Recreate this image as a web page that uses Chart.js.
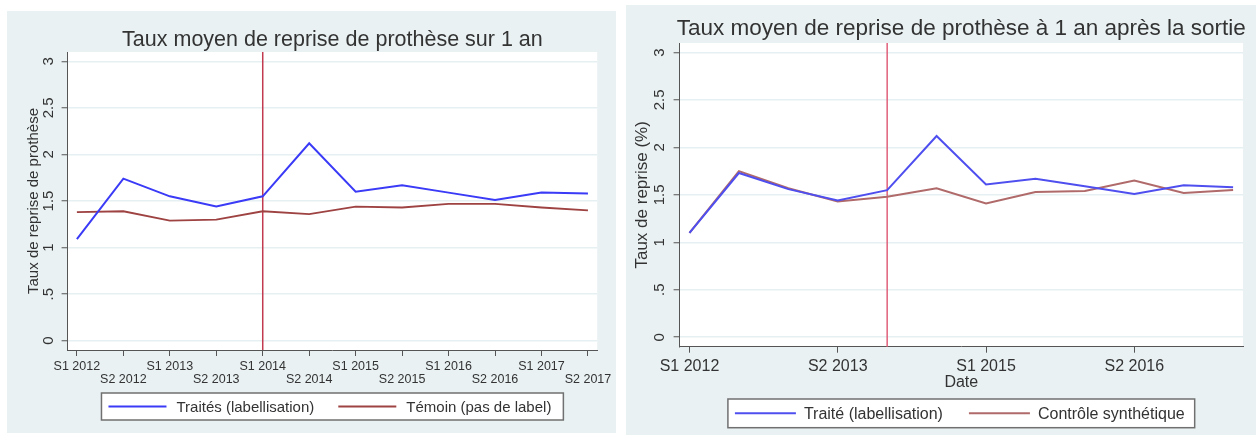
<!DOCTYPE html>
<html>
<head>
<meta charset="utf-8">
<script src="https://cdn.jsdelivr.net/npm/chart.js@4.4.1/dist/chart.umd.min.js"></script>
<style>
    body { margin: 0; width: 1256px; height: 435px; background: #fff; position: relative; overflow: hidden; }
    .panel { position: absolute; background: #e9f1f3; }
    #panel-left { left: 7px; top: 11px; width: 609px; height: 422px; }
    #panel-right { left: 626px; top: 5px; width: 630px; height: 430px; }
    canvas { display: block; }
</style>
</head>
<body>
<div class="panel" id="panel-left"><canvas id="chartLeft" width="609" height="422"></canvas></div>
<div class="panel" id="panel-right"><canvas id="chartRight" width="630" height="430"></canvas></div>
<script>
const FONT = '"Liberation Sans", Arial, sans-serif';

// semesters on the x axis
const periods = ['S1 2012', 'S2 2012', 'S1 2013', 'S2 2013', 'S1 2014', 'S2 2014',
                 'S1 2015', 'S2 2015', 'S1 2016', 'S2 2016', 'S1 2017', 'S2 2017'];
const rightTickLabels = ['S1 2012', 'S2 2013', 'S1 2015', 'S2 2016'];
const yTicks = [0, 0.5, 1, 1.5, 2, 2.5, 3];
const eventPeriod = 'S1 2014';

// left chart: taux sur 1 an
const leftTraites = [1.09, 1.74, 1.55, 1.44, 1.55, 2.12, 1.60, 1.67, 1.59, 1.51, 1.59, 1.58];
const leftTemoin  = [1.38, 1.39, 1.29, 1.30, 1.39, 1.36, 1.44, 1.43, 1.47, 1.47, 1.43, 1.40];

// right chart: taux à 1 an après la sortie
const rightTraite   = [1.10, 1.73, 1.56, 1.44, 1.55, 2.12, 1.61, 1.67, 1.59, 1.51, 1.60, 1.58];
const rightControle = [1.10, 1.75, 1.57, 1.43, 1.48, 1.57, 1.41, 1.53, 1.54, 1.65, 1.52, 1.55];

const xy = vals => vals.map((v, i) => ({ x: i, y: v }));
const fmtY = v => (v > 0 && v < 1) ? String(v).replace(/^0/, '') : String(v);

// titres, labels Y tournés, ligne verticale et légende façon Stata
const stataPlugin = {
    id: 'stata',
    beforeDraw(chart, args, o) {
        const { ctx, chartArea: a } = chart;
        ctx.save();
        ctx.fillStyle = '#ffffff';
        ctx.fillRect(a.left, a.top, a.right - a.left, a.bottom - a.top);
        ctx.restore();
    },
    beforeDatasetsDraw(chart, args, o) {
        const { ctx, chartArea: a, scales } = chart;
        const x = scales.x.getPixelForValue(periods.indexOf(eventPeriod));
        ctx.save();
        ctx.strokeStyle = o.eventColor;
        ctx.lineWidth = 1.5;
        ctx.beginPath();
        ctx.moveTo(x, a.top);
        ctx.lineTo(x, a.bottom);
        ctx.stroke();
        ctx.restore();
    },
    afterDraw(chart, args, o) {
        const { ctx, chartArea: a, scales } = chart;
        const cx = (a.left + a.right) / 2;
        const cy = (a.top + a.bottom) / 2;
        ctx.save();
        ctx.fillStyle = '#333';

        ctx.font = o.titleFont;
        ctx.textAlign = 'center';
        ctx.textBaseline = 'alphabetic';
        ctx.fillText(o.title, cx, o.titleY);

        // y tick labels (vertical)
        ctx.font = o.yTickFont;
        ctx.textBaseline = 'middle';
        scales.y.ticks.forEach(t => {
            ctx.save();
            ctx.translate(o.yTickX, scales.y.getPixelForValue(t.value));
            ctx.rotate(-Math.PI / 2);
            ctx.fillText(fmtY(t.value), 0, 0);
            ctx.restore();
        });

        ctx.font = o.yTitleFont;
        ctx.save();
        ctx.translate(o.yTitleX, cy);
        ctx.rotate(-Math.PI / 2);
        ctx.fillText(o.yTitle, 0, 0);
        ctx.restore();

        if (o.xTitle) {
            ctx.font = o.xTitleFont;
            ctx.textBaseline = 'alphabetic';
            ctx.fillText(o.xTitle, cx, o.xTitleY);
        }

        // legend box
        const lg = o.legend;
        ctx.font = lg.font;
        const items = chart.data.datasets.map(d => ({
            text: d.label, color: d.borderColor, width: d.borderWidth, tw: ctx.measureText(d.label).width
        }));
        let total = lg.padL + lg.padR;
        items.forEach((it, i) => { total += lg.lineLen + lg.gap + it.tw + (i ? lg.itemGap : 0); });
        const bx = cx - total / 2;
        const my = lg.top + lg.height / 2;
        ctx.fillStyle = '#fff';
        ctx.fillRect(bx, lg.top, total, lg.height);
        ctx.strokeStyle = '#707070';
        ctx.lineWidth = 1.5;
        ctx.strokeRect(bx, lg.top, total, lg.height);
        let x = bx + lg.padL;
        ctx.textAlign = 'left';
        ctx.textBaseline = 'middle';
        items.forEach((it, i) => {
            if (i) x += lg.itemGap;
            ctx.strokeStyle = it.color;
            ctx.lineWidth = it.width;
            ctx.beginPath();
            ctx.moveTo(x, my);
            ctx.lineTo(x + lg.lineLen, my);
            ctx.stroke();
            x += lg.lineLen + lg.gap;
            ctx.fillStyle = '#333';
            ctx.fillText(it.text, x, my + 1);
            x += it.tw;
        });
        ctx.restore();
    }
};

function buildOptions(p) {
    return {
        responsive: false,
        animation: false,
        events: [],
        layout: { padding: { top: p.padTop, right: p.padRight, left: 0, bottom: 0 } },
        elements: { point: { radius: 0 }, line: { tension: 0 } },
        plugins: {
            legend: { display: false },
            title: { display: false },
            tooltip: { enabled: false },
            stata: p.stata
        },
        scales: {
            x: {
                type: 'linear',
                min: -0.2,
                max: 11.2,
                afterBuildTicks: s => { s.ticks = p.xTickIdx.map(i => ({ value: i })); },
                afterFit: s => { s.height = p.xHeight; },
                grid: { drawOnChartArea: false, drawTicks: true, tickLength: 6, tickColor: '#555', tickWidth: 1 },
                border: { color: '#555', width: 1 },
                ticks: {
                    autoSkip: false, maxRotation: 0, minRotation: 0,
                    padding: p.xTickPad, color: '#333', font: p.xTickFont,
                    callback: p.xTickLabel
                }
            },
            y: {
                min: -0.1,
                max: 3.1,
                afterBuildTicks: s => { s.ticks = yTicks.map(v => ({ value: v })); },
                afterFit: s => { s.width = p.yWidth; },
                grid: { color: '#e6eff1', lineWidth: 1.5, tickLength: 6, tickColor: '#555', tickWidth: 1 },
                border: { color: '#555', width: 1 },
                ticks: { display: false }
            }
        }
    };
}

new Chart(document.getElementById('chartLeft'), {
    type: 'line',
    data: {
        datasets: [
            { label: 'Traités (labellisation)', data: xy(leftTraites), borderColor: '#3a3af7', borderWidth: 2 },
            { label: 'Témoin (pas de label)', data: xy(leftTemoin), borderColor: '#9e4242', borderWidth: 1.8 }
        ]
    },
    options: buildOptions({
        padTop: 41, padRight: 15, xHeight: 83, yWidth: 60.6, xTickPad: 4.5,
        xTickIdx: periods.map((_, i) => i),
        xTickFont: { family: FONT, size: 12.5, lineHeight: 1 },
        xTickLabel: v => (v % 2 === 0 ? [periods[v], ''] : ['', periods[v]]),
        stata: {
            title: 'Taux moyen de reprise de prothèse sur 1 an', titleFont: '21.5px ' + FONT, titleY: 34.7,
            yTitle: 'Taux de reprise de prothèse', yTitleFont: '15px ' + FONT, yTitleX: 26.5,
            yTickFont: '15px ' + FONT, yTickX: 42,
            eventColor: '#c23a50',
            legend: { top: 382, height: 27, font: '15px ' + FONT, lineLen: 58, gap: 10, itemGap: 24, padL: 7, padR: 12 }
        }
    }),
    plugins: [stataPlugin]
});

new Chart(document.getElementById('chartRight'), {
    type: 'line',
    data: {
        datasets: [
            { label: 'Traité (labellisation)', data: xy(rightTraite), borderColor: '#4f4ff0', borderWidth: 2 },
            { label: 'Contrôle synthétique', data: xy(rightControle), borderColor: '#b06a6a', borderWidth: 2 }
        ]
    },
    options: buildOptions({
        padTop: 38, padRight: 13, xHeight: 88.3, yWidth: 53.6, xTickPad: 4,
        xTickIdx: rightTickLabels.map(l => periods.indexOf(l)),
        xTickFont: { family: FONT, size: 16, lineHeight: 1.2 },
        xTickLabel: v => periods[v],
        stata: {
            title: 'Taux moyen de reprise de prothèse à 1 an après la sortie', titleFont: '22.5px ' + FONT, titleY: 30,
            yTitle: 'Taux de reprise (%)', yTitleFont: '17px ' + FONT, yTitleX: 16.7,
            yTickFont: '15px ' + FONT, yTickX: 34,
            xTitle: 'Date', xTitleFont: '16px ' + FONT, xTitleY: 381.7,
            eventColor: '#e0607a',
            legend: { top: 394, height: 28.7, font: '16px ' + FONT, lineLen: 61, gap: 8, itemGap: 26, padL: 7, padR: 10 }
        }
    }),
    plugins: [stataPlugin]
});
</script>
</body>
</html>
